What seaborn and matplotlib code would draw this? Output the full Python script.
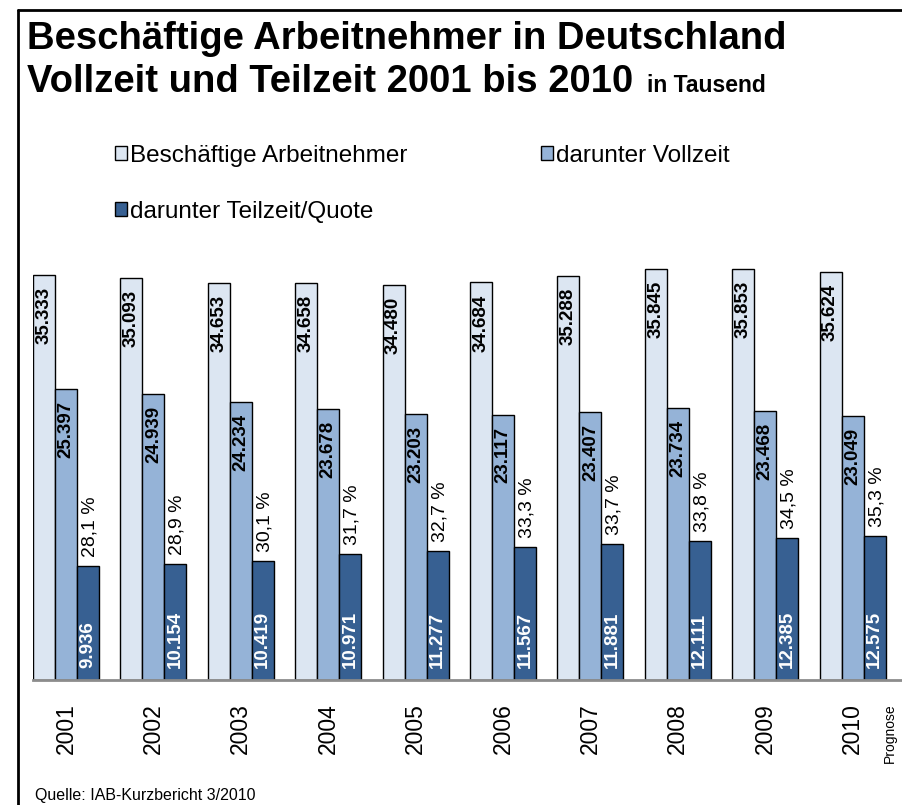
import pandas as pd
import matplotlib.pyplot as plt
import seaborn as sns
from matplotlib.lines import Line2D
from matplotlib.ticker import FixedLocator

# ================= DATA =================
years = ["2001", "2002", "2003", "2004", "2005", "2006", "2007", "2008", "2009", "2010"]
gesamt = [35333, 35093, 34653, 34658, 34480, 34684, 35288, 35845, 35853, 35624]
vollzeit = [25397, 24939, 24234, 23678, 23203, 23117, 23407, 23734, 23468, 23049]
teilzeit = [9936, 10154, 10419, 10971, 11277, 11567, 11881, 12111, 12385, 12575]
quote = [28.1, 28.9, 30.1, 31.7, 32.7, 33.3, 33.7, 33.8, 34.5, 35.3]

series = ["Beschäftige Arbeitnehmer", "darunter Vollzeit", "darunter Teilzeit/Quote"]
colors = {series[0]: "#DCE6F2", series[1]: "#95B3D7", series[2]: "#376092"}

df = pd.DataFrame({
    "Jahr": years * 3,
    "Wert": gesamt + vollzeit + teilzeit,
    "Reihe": [series[0]] * 10 + [series[1]] * 10 + [series[2]] * 10,
})

# ================= STYLE =================
sns.set_style("white")
plt.rcParams["font.family"] = ["Liberation Sans", "DejaVu Sans"]
plt.rcParams["text.color"] = "black"
plt.rcParams["xtick.labelcolor"] = "black"

W, H = 902, 805
fig = plt.figure(figsize=(W / 100, H / 100), dpi=100)

GROUP = 0.755
ax_left, ax_bottom, ax_top = 33, 680, 250
ax = fig.add_axes([ax_left / W, (H - ax_bottom) / H, 874 / W, (ax_bottom - ax_top) / H])

sns.barplot(data=df, x="Jahr", y="Wert", hue="Reihe", hue_order=series,
            palette=colors, saturation=1, edgecolor="black", linewidth=1,
            width=GROUP, gap=0, ax=ax)

handles, labels = ax.get_legend_handles_labels()
ax.get_legend().remove()

ax.set_xlim(-GROUP / 2, 10 - GROUP / 2)
ax.set_ylim(0, 37515)
ax.set_xlabel("")
ax.set_ylabel("")
ax.set_yticks([])
for s in ["left", "right", "top"]:
    ax.spines[s].set_visible(False)
ax.spines["bottom"].set_color("#8c8c8c")
ax.spines["bottom"].set_linewidth(2)

ax.set_xticks(range(10))
ax.set_xticklabels(years, rotation=90, fontsize=16.5, color="black")
ax.tick_params(axis="x", which="major", length=0, pad=17)
ax.xaxis.set_minor_locator(FixedLocator([i - GROUP / 2 for i in range(10)]))
ax.tick_params(axis="x", which="minor", length=8, width=1.5, color="#8c8c8c",
               direction="out")

ax.annotate("Prognose", xy=(9, 0), xycoords=("data", "axes fraction"),
            xytext=(37, -23), textcoords="offset pixels", rotation=90,
            ha="center", va="top", fontsize=10)

# ================= BAR LABELS =================
def de(v):
    return f"{int(round(v)):,}".replace(",", ".")

for k, cont in enumerate(ax.containers):
    bars = sorted(cont, key=lambda b: b.get_x())
    for i, bar in enumerate(bars):
        xc = bar.get_x() + bar.get_width() / 2
        h = bar.get_height()
        if k < 2:
            ax.annotate(de(h), xy=(xc, h), xytext=(0, -12), textcoords="offset pixels",
                        rotation=90, ha="center", va="top", fontsize=13.5,
                        fontweight="bold", color="black")
        else:
            ax.annotate(de(h), xy=(xc, 0), xytext=(0, 12), textcoords="offset pixels",
                        rotation=90, ha="center", va="bottom", fontsize=13.5,
                        fontweight="bold", color="white")
            txt = f"{quote[i]:.1f}".replace(".", ",") + " %"
            ax.annotate(txt, xy=(xc, h), xytext=(2, 9), textcoords="offset pixels",
                        rotation=90, ha="center", va="bottom", fontsize=14,
                        color="black")

# ================= LEGEND =================
order = [0, 2, 1]
fig.legend([handles[i] for i in order], [labels[i] for i in order],
           ncol=2, loc="upper left", bbox_to_anchor=(115 / W, 1 - 145 / H),
           frameon=False, fontsize=17.5, handlelength=0.5, handleheight=0.5,
           handletextpad=0.12, columnspacing=5.5, labelspacing=1.38,
           borderaxespad=0, borderpad=0)

# ================= TITLE =================
fig.text(27 / W, 1 - 49 / H, "Beschäftige Arbeitnehmer in Deutschland",
         fontsize=27.5, fontweight="bold", va="baseline", ha="left")
fig.text(27 / W, 1 - 92 / H, "Vollzeit und Teilzeit 2001 bis 2010",
         fontsize=27.5, fontweight="bold", va="baseline", ha="left")
fig.text(647 / W, 1 - 92 / H, "in Tausend",
         fontsize=16.5, fontweight="bold", va="baseline", ha="left")

fig.text(35 / W, 1 - 800 / H, "Quelle: IAB-Kurzbericht 3/2010",
         fontsize=11.5, va="baseline", ha="left")

# ================= FRAME =================
fig.add_artist(Line2D([18 / W, 18 / W], [0, 1 - 10 / H], transform=fig.transFigure,
                      color="black", linewidth=2))
fig.add_artist(Line2D([18 / W, 1], [1 - 10 / H, 1 - 10 / H], transform=fig.transFigure,
                      color="black", linewidth=2))

fig.savefig("out.png", dpi=100)
plt.close(fig)
